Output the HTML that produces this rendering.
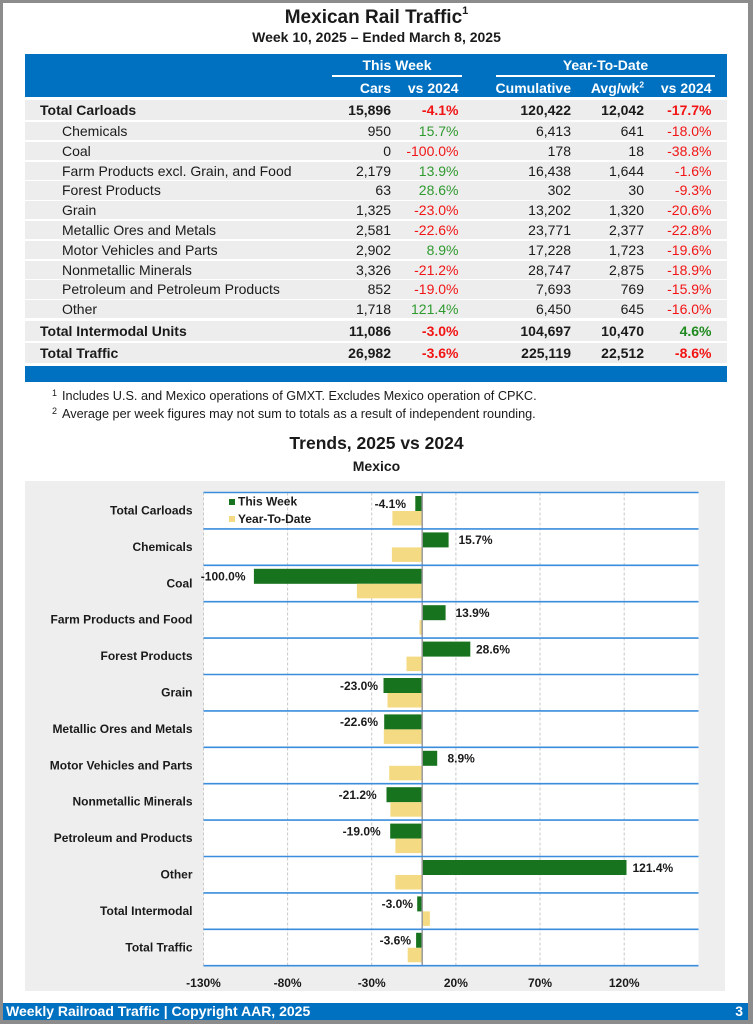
<!DOCTYPE html>
<html>
<head>
<meta charset="utf-8">
<style>
  html,body{margin:0;padding:0;}
  body{width:753px;height:1024px;background:#8c8c8c;position:relative;overflow:hidden;font-family:"Liberation Sans",Arial,sans-serif;color:#1a1a1a;}
  .page{position:absolute;left:3px;top:3px;width:745px;height:1017px;background:#fff;}
  .abs{position:absolute;white-space:nowrap;}
  .row{position:absolute;left:25px;width:702px;background:#ededed;font-size:14px;}
  .row span{position:absolute;top:0;}
  .b{font-weight:bold;}
  .r{color:#f21414;}
  .g{color:#2f9a2f;}
  .gb{color:#1f8a1f;}
  .hdr{position:absolute;left:25px;top:54px;width:702px;height:43px;background:#0070c0;color:#fff;font-weight:bold;font-size:14px;}
  .hdr span{position:absolute;white-space:nowrap;line-height:16px;}
  sup{font-size:60%;line-height:0;}
</style>
</head>
<body>
<div class="page"></div>

<!-- Title -->
<div class="abs b" style="left:0;width:753px;text-align:center;top:6px;font-size:19px;line-height:23px;">Mexican Rail Traffic<sup style="font-size:11px;position:relative;top:-2px;">1</sup></div>
<div class="abs b" style="left:0;width:753px;text-align:center;top:29px;font-size:14px;line-height:17px;">Week 10, 2025 – Ended March 8, 2025</div>

<!-- Table header -->
<div class="hdr">
  <span style="left:307px;width:130px;text-align:center;top:3px;">This Week</span>
  <span style="left:471px;width:219px;text-align:center;top:3px;">Year-To-Date</span>
  <div style="position:absolute;left:307px;top:20.5px;width:130px;height:2px;background:#fff;"></div>
  <div style="position:absolute;left:471px;top:20.5px;width:219px;height:2px;background:#fff;"></div>
  <span style="right:336px;top:26px;">Cars</span>
  <span style="right:268.5px;top:26px;">vs 2024</span>
  <span style="right:156px;top:26px;">Cumulative</span>
  <span style="right:83px;top:26px;">Avg/wk<sup>2</sup></span>
  <span style="right:15.5px;top:26px;">vs 2024</span>
</div>

<!-- Rows -->
<div class="row b" style="top:100px;height:20px;line-height:20px;">
  <span style="left:15px;">Total Carloads</span>
  <span style="right:336px;">15,896</span><span class="r" style="right:268.5px;">-4.1%</span>
  <span style="right:156px;">120,422</span><span style="right:83px;">12,042</span><span class="r" style="right:15.5px;">-17.7%</span>
</div>

<div class="row" style="top:122px;height:18.3px;line-height:18.3px;">
  <span style="left:37px;">Chemicals</span>
  <span style="right:336px;">950</span><span class="g" style="right:268.5px;">15.7%</span>
  <span style="right:156px;">6,413</span><span style="right:83px;">641</span><span class="r" style="right:15.5px;">-18.0%</span>
</div>
<div class="row" style="top:141.8px;height:18.3px;line-height:18.3px;">
  <span style="left:37px;">Coal</span>
  <span style="right:336px;">0</span><span class="r" style="right:268.5px;">-100.0%</span>
  <span style="right:156px;">178</span><span style="right:83px;">18</span><span class="r" style="right:15.5px;">-38.8%</span>
</div>
<div class="row" style="top:161.6px;height:18.3px;line-height:18.3px;">
  <span style="left:37px;">Farm Products excl. Grain, and Food</span>
  <span style="right:336px;">2,179</span><span class="g" style="right:268.5px;">13.9%</span>
  <span style="right:156px;">16,438</span><span style="right:83px;">1,644</span><span class="r" style="right:15.5px;">-1.6%</span>
</div>
<div class="row" style="top:181.4px;height:18.3px;line-height:18.3px;">
  <span style="left:37px;">Forest Products</span>
  <span style="right:336px;">63</span><span class="g" style="right:268.5px;">28.6%</span>
  <span style="right:156px;">302</span><span style="right:83px;">30</span><span class="r" style="right:15.5px;">-9.3%</span>
</div>
<div class="row" style="top:201.2px;height:18.3px;line-height:18.3px;">
  <span style="left:37px;">Grain</span>
  <span style="right:336px;">1,325</span><span class="r" style="right:268.5px;">-23.0%</span>
  <span style="right:156px;">13,202</span><span style="right:83px;">1,320</span><span class="r" style="right:15.5px;">-20.6%</span>
</div>
<div class="row" style="top:221px;height:18.3px;line-height:18.3px;">
  <span style="left:37px;">Metallic Ores and Metals</span>
  <span style="right:336px;">2,581</span><span class="r" style="right:268.5px;">-22.6%</span>
  <span style="right:156px;">23,771</span><span style="right:83px;">2,377</span><span class="r" style="right:15.5px;">-22.8%</span>
</div>
<div class="row" style="top:240.8px;height:18.3px;line-height:18.3px;">
  <span style="left:37px;">Motor Vehicles and Parts</span>
  <span style="right:336px;">2,902</span><span class="g" style="right:268.5px;">8.9%</span>
  <span style="right:156px;">17,228</span><span style="right:83px;">1,723</span><span class="r" style="right:15.5px;">-19.6%</span>
</div>
<div class="row" style="top:260.6px;height:18.3px;line-height:18.3px;">
  <span style="left:37px;">Nonmetallic Minerals</span>
  <span style="right:336px;">3,326</span><span class="r" style="right:268.5px;">-21.2%</span>
  <span style="right:156px;">28,747</span><span style="right:83px;">2,875</span><span class="r" style="right:15.5px;">-18.9%</span>
</div>
<div class="row" style="top:280.4px;height:18.3px;line-height:18.3px;">
  <span style="left:37px;">Petroleum and Petroleum Products</span>
  <span style="right:336px;">852</span><span class="r" style="right:268.5px;">-19.0%</span>
  <span style="right:156px;">7,693</span><span style="right:83px;">769</span><span class="r" style="right:15.5px;">-15.9%</span>
</div>
<div class="row" style="top:300.2px;height:18.3px;line-height:18.3px;">
  <span style="left:37px;">Other</span>
  <span style="right:336px;">1,718</span><span class="g" style="right:268.5px;">121.4%</span>
  <span style="right:156px;">6,450</span><span style="right:83px;">645</span><span class="r" style="right:15.5px;">-16.0%</span>
</div>

<div class="row b" style="top:321px;height:20px;line-height:20px;">
  <span style="left:15px;">Total Intermodal Units</span>
  <span style="right:336px;">11,086</span><span class="r" style="right:268.5px;">-3.0%</span>
  <span style="right:156px;">104,697</span><span style="right:83px;">10,470</span><span class="gb" style="right:15.5px;">4.6%</span>
</div>
<div class="row b" style="top:343px;height:20px;line-height:20px;">
  <span style="left:15px;">Total Traffic</span>
  <span style="right:336px;">26,982</span><span class="r" style="right:268.5px;">-3.6%</span>
  <span style="right:156px;">225,119</span><span style="right:83px;">22,512</span><span class="r" style="right:15.5px;">-8.6%</span>
</div>

<div class="abs" style="left:25px;top:366px;width:702px;height:15.5px;background:#0070c0;"></div>

<!-- Footnotes -->
<div class="abs" style="left:52px;top:388px;font-size:9px;line-height:10px;">1</div>
<div class="abs" style="left:62px;top:389px;font-size:12.7px;line-height:15px;">Includes U.S. and Mexico operations of GMXT. Excludes Mexico operation of CPKC.</div>
<div class="abs" style="left:52px;top:406px;font-size:9px;line-height:10px;">2</div>
<div class="abs" style="left:62px;top:407px;font-size:12.7px;line-height:15px;">Average per week figures may not sum to totals as a result of independent rounding.</div>

<!-- Chart titles -->
<div class="abs b" style="left:0;width:753px;text-align:center;top:433px;font-size:17.5px;line-height:21px;">Trends, 2025 vs 2024</div>
<div class="abs b" style="left:0;width:753px;text-align:center;top:458px;font-size:14px;line-height:17px;">Mexico</div>

<!-- Chart -->
<svg class="abs" style="left:0;top:0;" width="753" height="1024" viewBox="0 0 753 1024" xmlns="http://www.w3.org/2000/svg">
  <rect x="25" y="481" width="700" height="510" fill="#eeeeee"/>
  <rect x="203.5" y="492.5" width="495" height="473.2" fill="#ffffff"/>
  <!-- gridlines -->
  <g stroke="#c9c9c9" stroke-width="1" stroke-dasharray="3,2">
    <line x1="203.5" y1="492.5" x2="203.5" y2="965.7"/>
    <line x1="287.6" y1="492.5" x2="287.6" y2="965.7"/>
    <line x1="371.7" y1="492.5" x2="371.7" y2="965.7"/>
    <line x1="455.9" y1="492.5" x2="455.9" y2="965.7"/>
    <line x1="540.0" y1="492.5" x2="540.0" y2="965.7"/>
    <line x1="624.2" y1="492.5" x2="624.2" y2="965.7"/>
  </g>
  <!-- bars: T = 492.5 + 36.4*i ; zero 422.2 ; 1.683/% -->
  <g fill="#17731d">
    <rect x="415.3" y="496.0" width="6.9" height="15"/>
    <rect x="422.2" y="532.4" width="26.4" height="15"/>
    <rect x="253.9" y="568.8" width="168.3" height="15"/>
    <rect x="422.2" y="605.2" width="23.4" height="15"/>
    <rect x="422.2" y="641.6" width="48.1" height="15"/>
    <rect x="383.5" y="678.0" width="38.7" height="15"/>
    <rect x="384.2" y="714.4" width="38.0" height="15"/>
    <rect x="422.2" y="750.8" width="15.0" height="15"/>
    <rect x="386.5" y="787.2" width="35.7" height="15"/>
    <rect x="390.2" y="823.6" width="32.0" height="15"/>
    <rect x="422.2" y="860.0" width="204.3" height="15"/>
    <rect x="417.2" y="896.4" width="5.0" height="15"/>
    <rect x="416.1" y="932.8" width="6.1" height="15"/>
  </g>
  <g fill="#f4da82">
    <rect x="392.4" y="511.0" width="29.8" height="14.5"/>
    <rect x="391.9" y="547.4" width="30.3" height="14.5"/>
    <rect x="356.9" y="583.8" width="65.3" height="14.5"/>
    <rect x="419.5" y="620.2" width="2.7" height="14.5"/>
    <rect x="406.5" y="656.6" width="15.7" height="14.5"/>
    <rect x="387.5" y="693.0" width="34.7" height="14.5"/>
    <rect x="383.8" y="729.4" width="38.4" height="14.5"/>
    <rect x="389.2" y="765.8" width="33.0" height="14.5"/>
    <rect x="390.4" y="802.2" width="31.8" height="14.5"/>
    <rect x="395.4" y="838.6" width="26.8" height="14.5"/>
    <rect x="395.3" y="875.0" width="26.9" height="14.5"/>
    <rect x="422.2" y="911.4" width="7.7" height="14.5"/>
    <rect x="407.7" y="947.8" width="14.5" height="14.5"/>
  </g>
  <!-- zero line -->
  <line x1="422.2" y1="492.5" x2="422.2" y2="965.7" stroke="#9a9a9a" stroke-width="1.5"/>
  <!-- horizontal blue lines -->
  <g stroke="#3a8ddc" stroke-width="1.6">
    <line x1="203.5" y1="492.5" x2="698.5" y2="492.5"/>
    <line x1="203.5" y1="528.9" x2="698.5" y2="528.9"/>
    <line x1="203.5" y1="565.3" x2="698.5" y2="565.3"/>
    <line x1="203.5" y1="601.7" x2="698.5" y2="601.7"/>
    <line x1="203.5" y1="638.1" x2="698.5" y2="638.1"/>
    <line x1="203.5" y1="674.5" x2="698.5" y2="674.5"/>
    <line x1="203.5" y1="710.9" x2="698.5" y2="710.9"/>
    <line x1="203.5" y1="747.3" x2="698.5" y2="747.3"/>
    <line x1="203.5" y1="783.7" x2="698.5" y2="783.7"/>
    <line x1="203.5" y1="820.1" x2="698.5" y2="820.1"/>
    <line x1="203.5" y1="856.5" x2="698.5" y2="856.5"/>
    <line x1="203.5" y1="892.9" x2="698.5" y2="892.9"/>
    <line x1="203.5" y1="929.3" x2="698.5" y2="929.3"/>
    <line x1="203.5" y1="965.7" x2="698.5" y2="965.7"/>
  </g>
  <!-- legend -->
  <rect x="229" y="499" width="6" height="6" fill="#17731d"/>
  <rect x="229" y="516" width="6" height="6" fill="#f4da82"/>
  <g font-family="Liberation Sans, Arial, sans-serif" font-weight="bold" font-size="12" fill="#1a1a1a">
    <text x="238" y="505.5">This Week</text>
    <text x="238" y="523">Year-To-Date</text>
    <!-- category labels -->
    <g text-anchor="end">
      <text x="192.5" y="514.5">Total Carloads</text>
      <text x="192.5" y="550.9">Chemicals</text>
      <text x="192.5" y="587.3">Coal</text>
      <text x="192.5" y="623.7">Farm Products and Food</text>
      <text x="192.5" y="660.1">Forest Products</text>
      <text x="192.5" y="696.5">Grain</text>
      <text x="192.5" y="732.9">Metallic Ores and Metals</text>
      <text x="192.5" y="769.3">Motor Vehicles and Parts</text>
      <text x="192.5" y="805.7">Nonmetallic Minerals</text>
      <text x="192.5" y="842.1">Petroleum and Products</text>
      <text x="192.5" y="878.5">Other</text>
      <text x="192.5" y="914.9">Total Intermodal</text>
      <text x="192.5" y="951.3">Total Traffic</text>
    </g>
    <!-- value labels -->
    <g text-anchor="end">
      <text x="406" y="507.8">-4.1%</text>
      <text x="245.5" y="580.6">-100.0%</text>
      <text x="378" y="689.8">-23.0%</text>
      <text x="378" y="726.2">-22.6%</text>
      <text x="376.7" y="799">-21.2%</text>
      <text x="380.7" y="835.4">-19.0%</text>
      <text x="413" y="908.2">-3.0%</text>
      <text x="411" y="944.6">-3.6%</text>
    </g>
    <text x="458.5" y="544.2">15.7%</text>
    <text x="455.5" y="617">13.9%</text>
    <text x="476" y="653.4">28.6%</text>
    <text x="447.5" y="762.6">8.9%</text>
    <text x="632.5" y="871.8">121.4%</text>
    <!-- axis labels -->
    <g text-anchor="middle">
      <text x="203.5" y="987">-130%</text>
      <text x="287.6" y="987">-80%</text>
      <text x="371.7" y="987">-30%</text>
      <text x="455.9" y="987">20%</text>
      <text x="540.0" y="987">70%</text>
      <text x="624.2" y="987">120%</text>
    </g>
  </g>
</svg>

<!-- Footer -->
<div class="abs" style="left:3px;top:1003px;width:745px;height:16.5px;background:#0070c0;"></div>
<div class="abs b" style="left:6px;top:1003px;height:16.5px;line-height:16.5px;font-size:14px;color:#fff;">Weekly Railroad Traffic | Copyright AAR, 2025</div>
<div class="abs b" style="right:10px;top:1003px;height:16.5px;line-height:16.5px;font-size:14px;color:#fff;">3</div>
</body>
</html>
